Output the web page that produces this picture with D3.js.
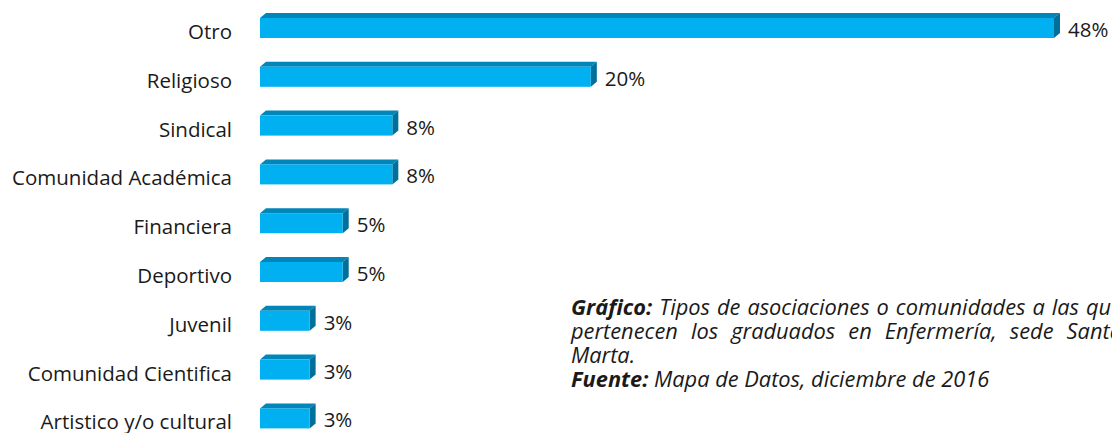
<!DOCTYPE html>
<html>
<head>
<meta charset="utf-8">
<script src="https://cdn.jsdelivr.net/npm/d3@7"></script>
<style>
  html, body { margin: 0; padding: 0; background: #ffffff; }
  svg { display: block; }
</style>
</head>
<body>
<div id="chart"></div>
<script>
// Association types and share of graduates (%)
const categories = [
  "Otro", "Religioso", "Sindical", "Comunidad Académica", "Financiera",
  "Deportivo", "Juvenil", "Comunidad Cientifica", "Artistico y/o cultural"
];
const values = [48, 20, 8, 8, 5, 5, 3, 3, 3];
const valueLabels = ["48%", "20%", "8%", "8%", "5%", "5%", "3%", "3%", "3%"];

// Caption paragraph: the first two lines are justified, the last one of each paragraph is not
const captionLine1 = [{ t: "Gráfico:", b: true }, { t: "Tipos" }, { t: "de" }, { t: "asociaciones" }, { t: "o" },
  { t: "comunidades" }, { t: "a" }, { t: "las" }, { t: "que" }];
const captionLine2 = [{ t: "pertenecen" }, { t: "los" }, { t: "graduados" }, { t: "en" }, { t: "Enfermería," },
  { t: "sede" }, { t: "Santa" }];
const captionLine3 = "Marta.";
const captionLine4 = [{ t: "Fuente:", b: true }, { t: "Mapa de Datos, diciembre de 2016" }];

const W = 1112, H = 433;
const FONT = "'Open Sans', 'Noto Sans', sans-serif";

const svg = d3.select("#chart").append("svg")
  .attr("width", W).attr("height", H)
  .style("font-family", FONT);

const x = d3.scaleLinear().domain([0, 48]).range([260, 1054]);
const y = d3.scaleBand().domain(categories).range([-10.8, 457.2]).padding(0.59);

const depthX = 6, depthY = 5;
const cFront = "#00b0f0", cTop = "#0086b8", cSide = "#006f9a";

const rows = svg.append("g").selectAll("g")
  .data(categories.map((c, i) => ({ c, v: values[i], lab: valueLabels[i] })))
  .join("g");

// top face
rows.append("path")
  .attr("fill", cTop)
  .attr("d", d => {
    const x0 = x(0), x1 = x(d.v), y0 = y(d.c);
    return `M${x0},${y0}L${x0 + depthX},${y0 - depthY}L${x1 + depthX},${y0 - depthY}L${x1},${y0}Z`;
  });
// side face
rows.append("path")
  .attr("fill", cSide)
  .attr("d", d => {
    const x1 = x(d.v), y0 = y(d.c), h = y.bandwidth();
    return `M${x1},${y0}L${x1 + depthX},${y0 - depthY}L${x1 + depthX},${y0 + h - depthY}L${x1},${y0 + h}Z`;
  });
// front face
rows.append("rect")
  .attr("x", x(0))
  .attr("y", d => y(d.c))
  .attr("width", d => x(d.v) - x(0))
  .attr("height", y.bandwidth())
  .attr("fill", cFront);

// value labels
rows.append("text")
  .attr("x", d => x(d.v) + depthX + 8)
  .attr("y", d => y(d.c) + y.bandwidth() / 2 + 1)
  .attr("dominant-baseline", "central")
  .attr("font-size", 20.5)
  .attr("fill", "#1a1a1a")
  .text(d => d.lab);

// category labels
rows.append("text")
  .attr("x", 232)
  .attr("y", d => y(d.c) + y.bandwidth() / 2 + 3)
  .attr("dominant-baseline", "central")
  .attr("text-anchor", "end")
  .attr("font-size", 20.5)
  .attr("fill", "#1a1a1a")
  .text(d => d.c);

// caption block (justified, runs past the right edge)
const cap = svg.append("g")
  .attr("font-size", 21.8)
  .attr("font-style", "italic")
  .attr("fill", "#1a1a1a");
const capX = 571, boxW = 551, lineH = 24, base1 = 315;

function mixedLine(parts, yy) {
  const t = cap.append("text").attr("x", capX).attr("y", yy);
  parts.forEach((p, i) => {
    t.append("tspan")
      .attr("font-weight", p.b ? "bold" : null)
      .text((i > 0 ? " " : "") + p.t);
  });
  return t;
}

// spread the words of one line across the box width
function justifiedLine(parts, yy) {
  const probe = cap.append("text").attr("visibility", "hidden");
  const widths = parts.map(p => {
    probe.attr("font-weight", p.b ? "bold" : null).text(p.t);
    return probe.node().getComputedTextLength();
  });
  probe.remove();
  const gap = (boxW - d3.sum(widths)) / (parts.length - 1);
  let cx = capX;
  parts.forEach((p, i) => {
    cap.append("text")
      .attr("x", cx).attr("y", yy)
      .attr("font-weight", p.b ? "bold" : null)
      .text(p.t);
    cx += widths[i] + gap;
  });
}

justifiedLine(captionLine1, base1);
justifiedLine(captionLine2, base1 + lineH);
cap.append("text").attr("x", capX).attr("y", base1 + 2 * lineH).text(captionLine3);
mixedLine(captionLine4, base1 + 3 * lineH);
</script>
</body>
</html>
